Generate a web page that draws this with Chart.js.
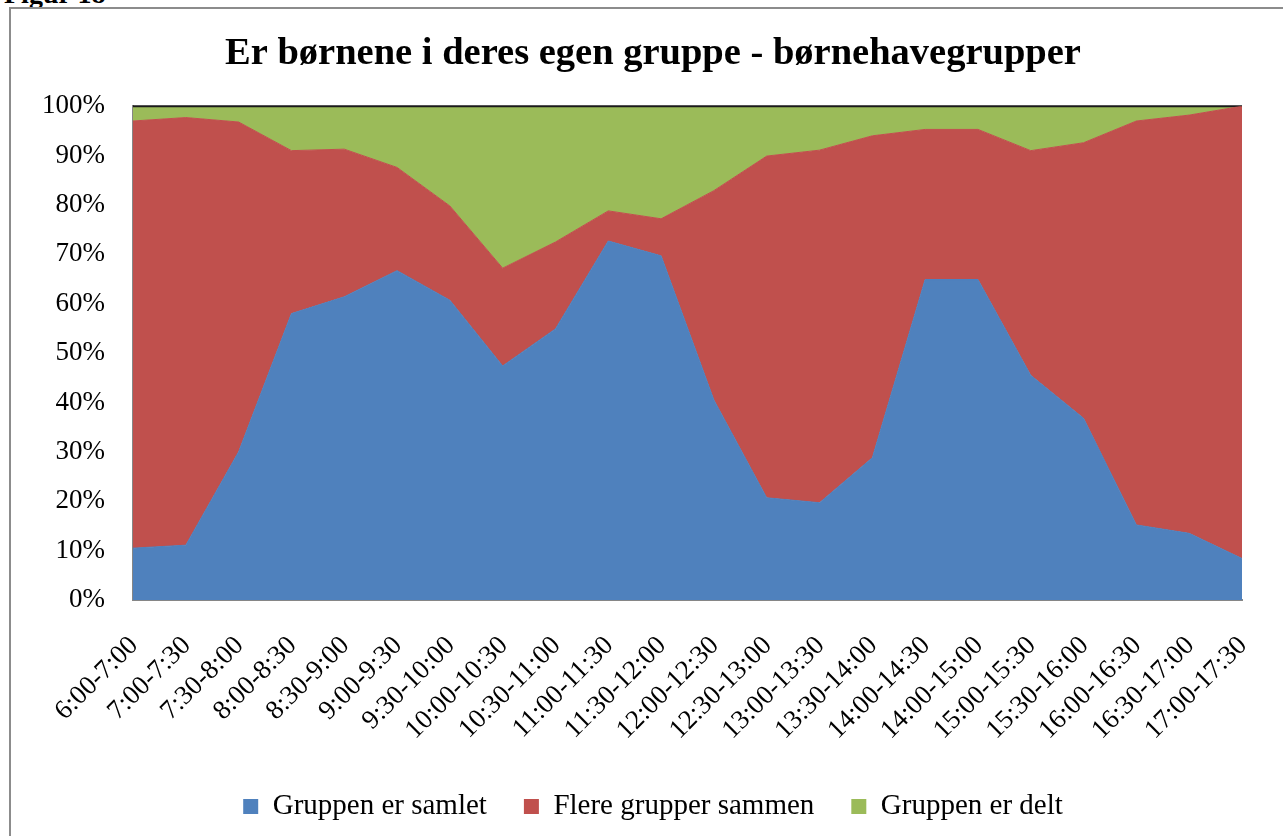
<!DOCTYPE html>
<html>
<head>
<meta charset="utf-8">
<script src="https://cdn.jsdelivr.net/npm/chart.js@4/dist/chart.umd.min.js"></script>
<style>
  html, body { margin: 0; padding: 0; background: #fff; overflow: hidden; width: 1283px; height: 836px; }
  #figur { position: absolute; left: 4px; top: -22px; font: bold 28px 'Liberation Serif', serif; color: #000; }
  #frame { position: absolute; left: 9px; top: 7px; width: 1320px; height: 880px; border: 2px solid #8c8c8c; }
  #wrap { position: absolute; left: 0; top: 0; width: 1306px; height: 836px; }
</style>
</head>
<body>
<div id="figur">Figur 18</div>
<div id="frame"></div>
<div id="wrap"><canvas id="iChart"></canvas></div>
<script>
// tidsrum
var labels = ['6:00-7:00', '7:00-7:30', '7:30-8:00', '8:00-8:30', '8:30-9:00', '9:00-9:30',
  '9:30-10:00', '10:00-10:30', '10:30-11:00', '11:00-11:30', '11:30-12:00', '12:00-12:30',
  '12:30-13:00', '13:00-13:30', '13:30-14:00', '14:00-14:30', '14:00-15:00', '15:00-15:30',
  '15:30-16:00', '16:00-16:30', '16:30-17:00', '17:00-17:30'];

// andele i procent
var samlet = [10.5, 11.1, 30.0, 58.0, 61.4, 66.7, 60.7, 47.4, 54.9, 72.7, 69.7,
  40.5, 20.7, 19.7, 28.8, 64.9, 64.9, 45.5, 36.8, 15.2, 13.5, 8.4];
var sammen = [86.5, 86.6, 66.8, 33.0, 29.9, 20.9, 19.1, 19.8, 17.6, 6.1, 7.5,
  42.4, 69.2, 71.4, 65.2, 30.4, 30.4, 45.5, 55.8, 81.8, 84.7, 91.6];
var delt = [3.0, 2.3, 3.2, 9.0, 8.7, 12.4, 20.2, 32.8, 27.5, 21.2, 22.8,
  17.1, 10.1, 8.9, 6.0, 4.7, 4.7, 9.0, 7.4, 3.0, 1.8, 0.0];

var yTicks = [0, 10, 20, 30, 40, 50, 60, 70, 80, 90, 100];

Chart.defaults.font.family = "'Liberation Serif', 'Times New Roman', serif";
Chart.defaults.color = '#000';

var ctx = document.getElementById('iChart').getContext('2d');
var iChart = new Chart(ctx, {
  type: 'line',
  data: {
    labels: labels,
    datasets: [
      { label: 'Gruppen er samlet', data: samlet, backgroundColor: '#4F81BD', borderColor: '#4F81BD', borderWidth: 1, fill: 'origin' },
      { label: 'Flere grupper sammen', data: sammen, backgroundColor: '#C0504D', borderColor: '#C0504D', borderWidth: 1, fill: '-1' },
      { label: 'Gruppen er delt', data: delt, backgroundColor: '#9BBB59', borderColor: '#1a1a1a', borderWidth: 2, fill: '-1', clip: 2 }
    ]
  },
  options: {
    responsive: true,
    maintainAspectRatio: false,
    animation: false,
    elements: { point: { radius: 0, hoverRadius: 0 }, line: { tension: 0 } },
    layout: { padding: { left: 0, right: 0, top: 0, bottom: 5 } },
    plugins: {
      title: {
        display: true,
        text: 'Er børnene i deres egen gruppe - børnehavegrupper',
        font: { size: 38.5, weight: 'bold' },
        padding: { top: 31, bottom: 29 }
      },
      legend: {
        position: 'bottom',
        labels: {
          font: { size: 29 },
          boxWidth: 15,
          boxHeight: 15,
          padding: 37,
          generateLabels: function (chart) {
            return chart.data.datasets.map(function (ds, i) {
              return { text: ds.label, fillStyle: ds.backgroundColor, strokeStyle: ds.backgroundColor, lineWidth: 0, datasetIndex: i, fontColor: '#000' };
            });
          }
        }
      },
      tooltip: { enabled: false }
    },
    scales: {
      x: {
        grid: { display: false, drawTicks: false },
        border: { display: true, color: '#868686', width: 2 },
        ticks: { autoSkip: false, minRotation: 45, maxRotation: 45, padding: 30, labelOffset: 1, font: { size: 27 } },
        afterFit: function (scale) { scale.height = 155; }
      },
      y: {
        stacked: true,
        min: 0,
        max: 100,
        grid: { display: false, drawTicks: false },
        border: { display: true, color: '#868686', width: 2 },
        afterBuildTicks: function (scale) { scale.ticks = yTicks.map(function (v) { return { value: v }; }); },
        ticks: { padding: 28, font: { size: 27 }, callback: function (v) { return v + '%'; } },
        afterFit: function (scale) { scale.width = 133; }
      },
      // tom akse til højre, så titel og forklaring står midt i rammen
      yPad: {
        position: 'right',
        min: 0,
        max: 100,
        grid: { display: false, drawTicks: false },
        border: { display: false },
        ticks: { display: false },
        afterFit: function (scale) { scale.width = 64; }
      }
    }
  }
});
</script>
</body>
</html>
